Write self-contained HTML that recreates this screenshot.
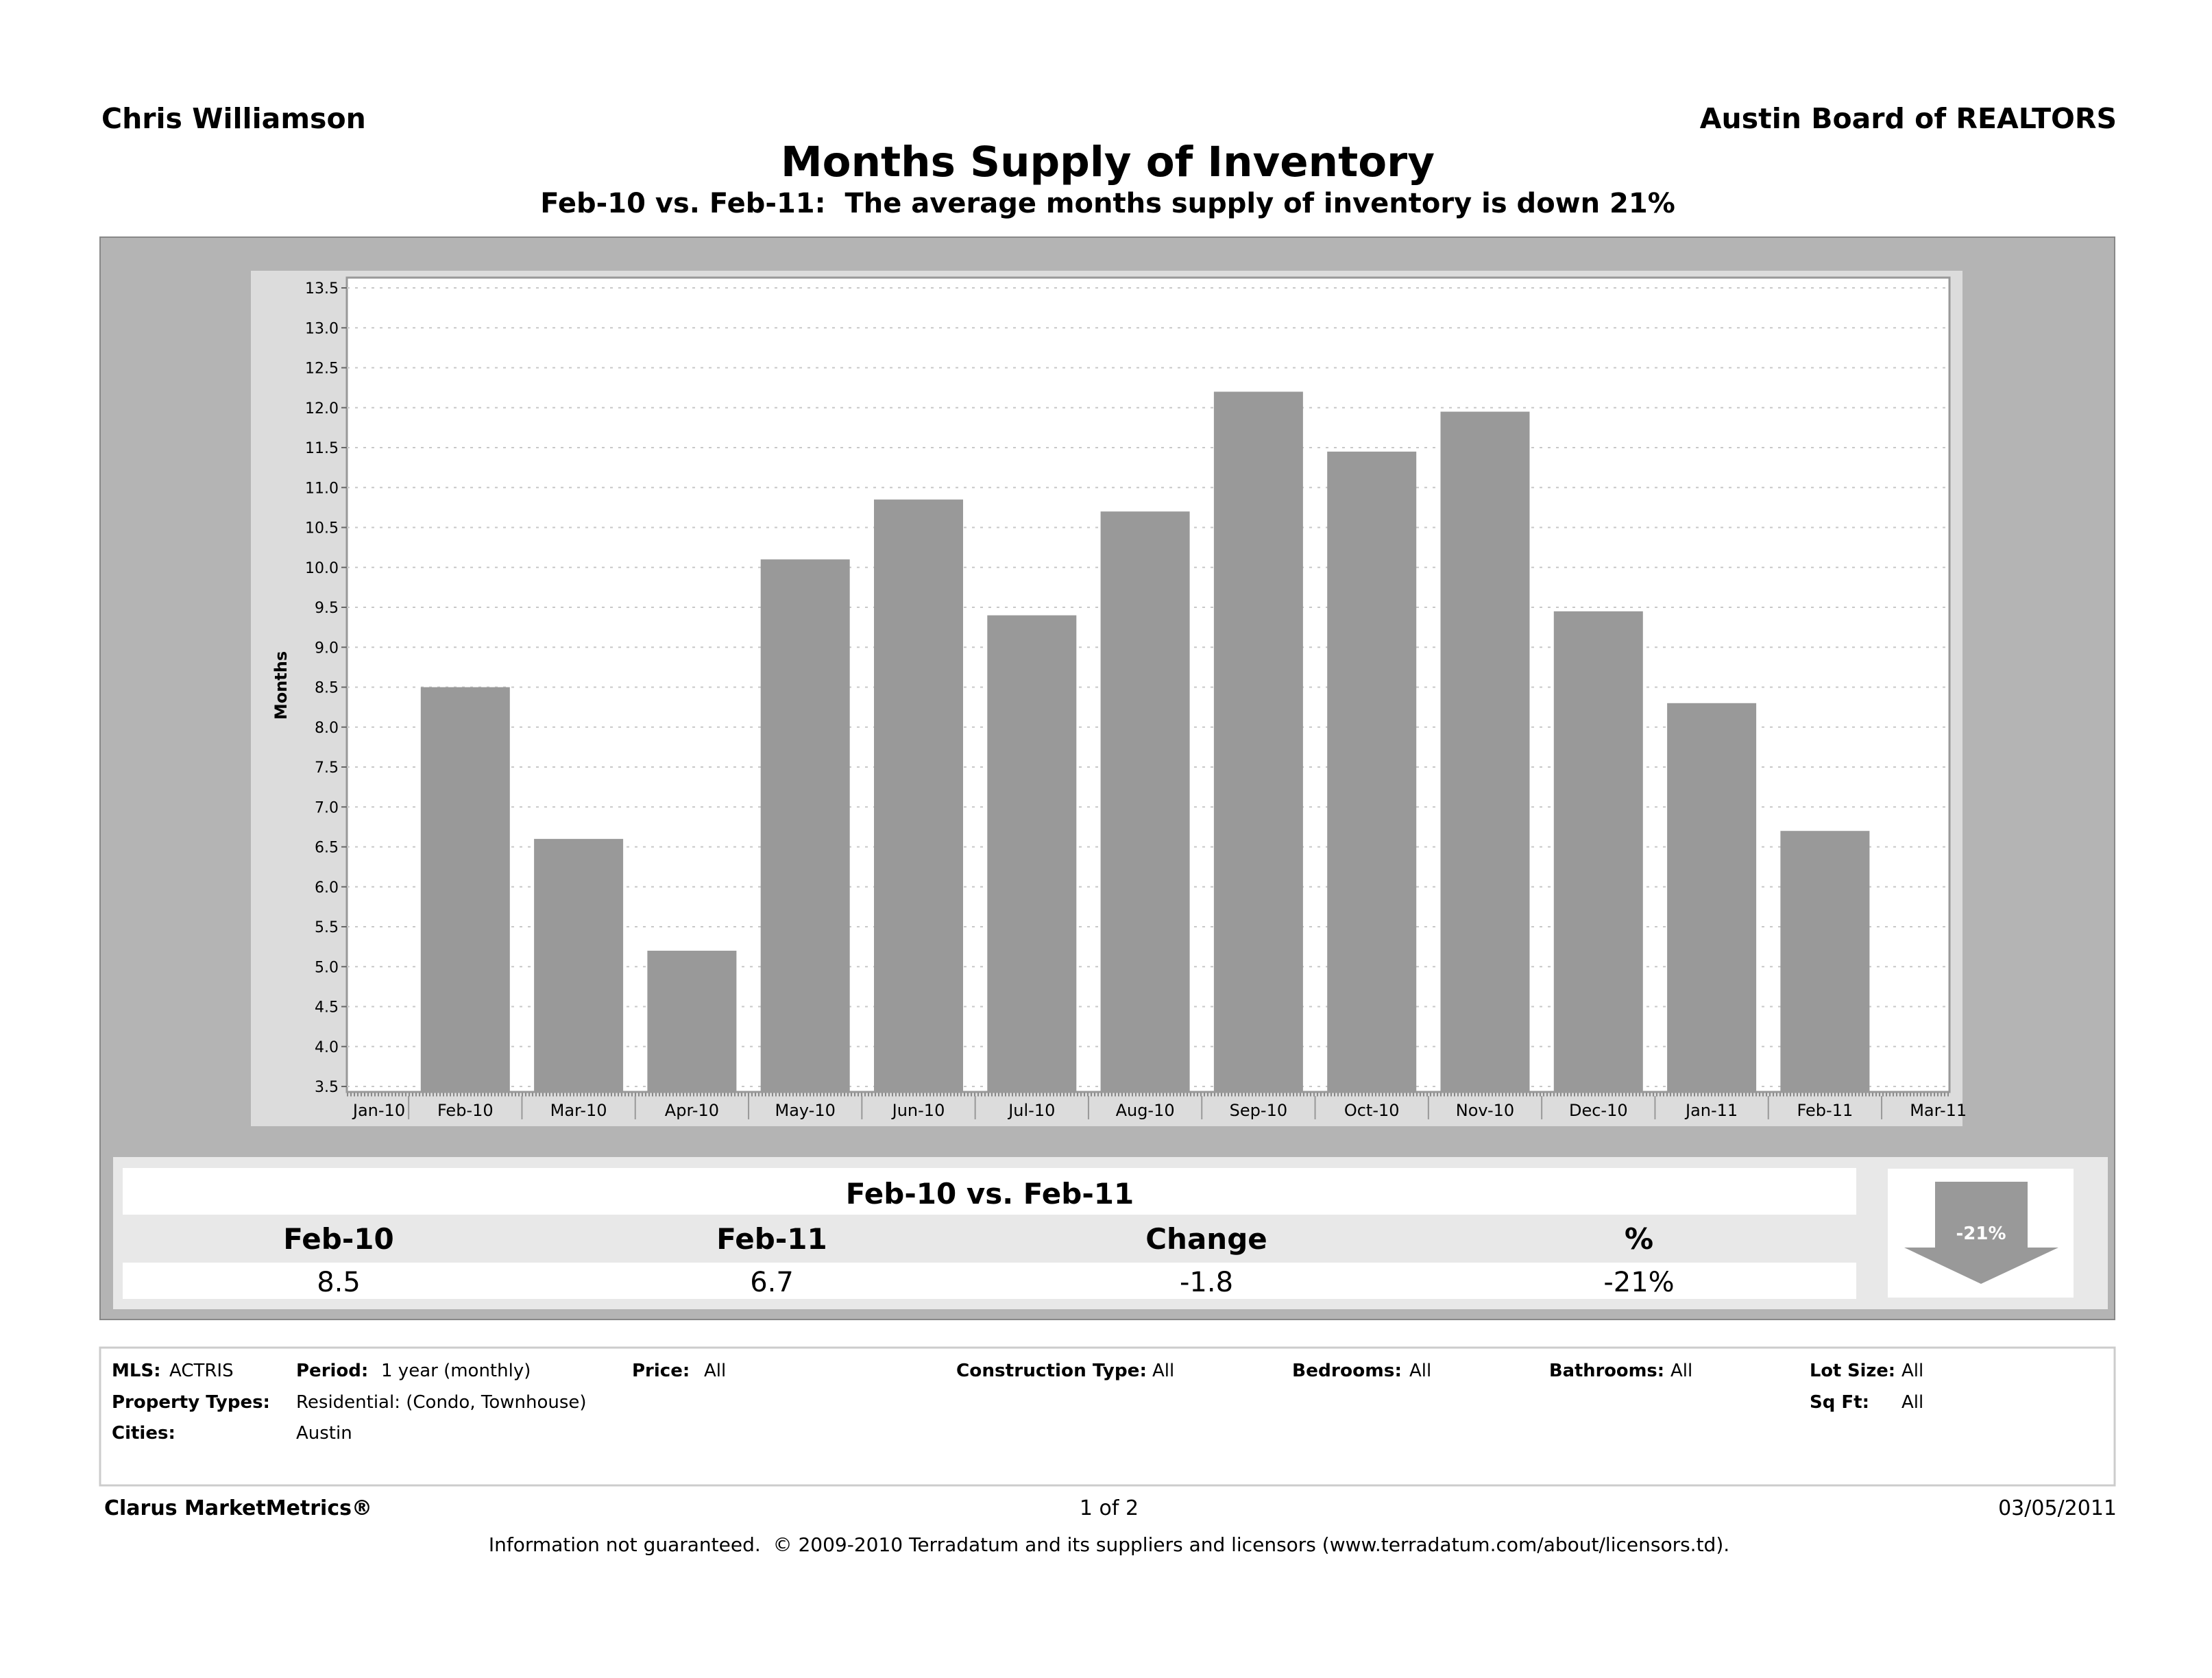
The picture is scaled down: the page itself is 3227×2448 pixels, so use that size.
<!DOCTYPE html>
<html><head><meta charset="utf-8"><style>
html,body{margin:0;padding:0;background:#fff}
svg{display:block}
text{font-family:"DejaVu Sans","Liberation Sans",sans-serif;white-space:pre}
</style></head><body>
<svg id="page" width="3227" height="2448" viewBox="0 0 3227 2448" xmlns="http://www.w3.org/2000/svg" xml:space="preserve">
<rect width="3227" height="2448" fill="#fff"/>
<text x="148" y="187" font-size="41" font-weight="bold">Chris Williamson</text>
<text x="3088" y="187" font-size="41" font-weight="bold" text-anchor="end">Austin Board of REALTORS</text>
<text x="1616" y="257" font-size="61" font-weight="bold" text-anchor="middle">Months Supply of Inventory</text>
<text x="1616" y="310" font-size="40" font-weight="bold" text-anchor="middle">Feb-10 vs. Feb-11:  The average months supply of inventory is down 21%</text>

<rect x="146" y="346" width="2939" height="1579" fill="#b4b4b4" stroke="#888" stroke-width="2"/>
<rect x="366" y="395" width="2497" height="1248" fill="#dcdcdc"/>
<g id="chart"></g>

<rect x="165" y="1688" width="2910" height="222" fill="#e8e8e8"/>
<rect x="179" y="1704" width="2529" height="68" fill="#fff"/>
<text x="1444" y="1756" font-size="42" font-weight="bold" text-anchor="middle">Feb-10 vs. Feb-11</text>
<text x="494" y="1822" font-size="42" font-weight="bold" text-anchor="middle">Feb-10</text>
<text x="1126" y="1822" font-size="42" font-weight="bold" text-anchor="middle">Feb-11</text>
<text x="1760" y="1822" font-size="42" font-weight="bold" text-anchor="middle">Change</text>
<text x="2391" y="1822" font-size="42" font-weight="bold" text-anchor="middle">%</text>
<rect x="179" y="1842" width="2529" height="53" fill="#fff"/>
<text x="494" y="1884" font-size="40" text-anchor="middle">8.5</text>
<text x="1126" y="1884" font-size="40" text-anchor="middle">6.7</text>
<text x="1760" y="1884" font-size="40" text-anchor="middle">-1.8</text>
<text x="2391" y="1884" font-size="40" text-anchor="middle">-21%</text>
<rect x="2754" y="1705" width="271" height="188" fill="#fff"/>
<polygon points="2823,1724 2958,1724 2958,1820 3003,1820 2890,1873 2778,1820 2823,1820" fill="#999"/>
<text x="2890" y="1808" font-size="26" font-weight="bold" fill="#fff" text-anchor="middle">-21%</text>

<rect x="146" y="1966" width="2939" height="201" fill="#fff" stroke="#ccc" stroke-width="3"/>
<g font-size="26">
<text x="163" y="2008" font-weight="bold">MLS:</text>
<text x="247" y="2008">ACTRIS</text>
<text x="432" y="2008" font-weight="bold">Period:</text>
<text x="556" y="2008">1 year (monthly)</text>
<text x="922" y="2008" font-weight="bold">Price:</text>
<text x="1027" y="2008">All</text>
<text x="1395" y="2008" font-weight="bold" textLength="278" lengthAdjust="spacingAndGlyphs">Construction Type:</text>
<text x="1681" y="2008">All</text>
<text x="1885" y="2008" font-weight="bold" textLength="160" lengthAdjust="spacingAndGlyphs">Bedrooms:</text>
<text x="2056" y="2008">All</text>
<text x="2260" y="2008" font-weight="bold" textLength="168" lengthAdjust="spacingAndGlyphs">Bathrooms:</text>
<text x="2437" y="2008">All</text>
<text x="2640" y="2008" font-weight="bold" textLength="125" lengthAdjust="spacingAndGlyphs">Lot Size:</text>
<text x="2774" y="2008">All</text>
<text x="163" y="2054" font-weight="bold">Property Types:</text>
<text x="432" y="2054">Residential: (Condo, Townhouse)</text>
<text x="2640" y="2054" font-weight="bold">Sq Ft:</text>
<text x="2774" y="2054">All</text>
<text x="163" y="2099" font-weight="bold">Cities:</text>
<text x="432" y="2099">Austin</text>
</g>
<text x="152" y="2210" font-size="30" font-weight="bold">Clarus MarketMetrics®</text>
<text x="1618" y="2210" font-size="30" text-anchor="middle">1 of 2</text>
<text x="3088" y="2210" font-size="30" text-anchor="end">03/05/2011</text>
<text x="1618" y="2263" font-size="28" text-anchor="middle">Information not guaranteed.  © 2009-2010 Terradatum and its suppliers and licensors (www.terradatum.com/about/licensors.td).</text>
</svg>
<script>
const categories = ["Jan-10","Feb-10","Mar-10","Apr-10","May-10","Jun-10","Jul-10","Aug-10","Sep-10","Oct-10","Nov-10","Dec-10","Jan-11","Feb-11","Mar-11"];
const values = [null,8.5,6.6,5.2,10.1,10.85,9.4,10.7,12.2,11.45,11.95,9.45,8.3,6.7,null];
const yTicks = [3.5,4.0,4.5,5.0,5.5,6.0,6.5,7.0,7.5,8.0,8.5,9.0,9.5,10.0,10.5,11.0,11.5,12.0,12.5,13.0,13.5];

const NS = "http://www.w3.org/2000/svg";
const g = document.getElementById("chart");
const L = 506, R = 2844, T = 405, B = 1593;
const yMin = 3.5, yMax = 13.5, yTop = 420, yBot = 1585;
function y(v){ return yBot - (v - yMin) / (yMax - yMin) * (yBot - yTop); }
const step = 165.3, x0 = 513.5;
function x(i){ return x0 + i * step; }
function mk(tag, attrs){ const e = document.createElementNS(NS, tag); for (const k in attrs) e.setAttribute(k, attrs[k]); g.appendChild(e); return e; }

const plot = mk("rect", {x:L, y:T, width:R-L, height:B-T, fill:"#fff", stroke:"#999", "stroke-width":3});



yTicks.forEach(v => {
  const gl = mk("line", {x1:L, x2:R, y1:y(v), y2:y(v), stroke:"#c8c8c8", "stroke-width":2, "stroke-dasharray":"4,8"});
  
  
  const tk = mk("line", {x1:L-8, x2:L, y1:y(v), y2:y(v), stroke:"#666", "stroke-width":2});
  
  
  const t = mk("text", {x:L-12, y:y(v)+8, "font-size":22, "text-anchor":"end"});
  t.textContent = v.toFixed(1);
  
  
});

values.forEach((v, i) => {
  if (v === null) return;
  const b = mk("rect", {x:x(i)-65, y:y(v), width:130, height:B-y(v), fill:"#999"});
  
  
});

categories.forEach((c, i) => {
  const t = mk("text", {x:Math.max(x(i), 553), y:1628, "font-size":24, "text-anchor":"middle"});
  t.textContent = c;
  
  
  if (i < categories.length - 1) {
    const s = mk("line", {x1:x(i)+step/2, x2:x(i)+step/2, y1:B+6, y2:B+40, stroke:"#999", "stroke-width":2});
    
    
  }
});
const ax = mk("line", {x1:L, x2:R, y1:B+4, y2:B+4, stroke:"#888", "stroke-width":5, "stroke-dasharray":"2,3"});



const yt = mk("text", {x:0, y:0, "font-size":24, "font-weight":"bold", "text-anchor":"middle", transform:"translate(418,1000) rotate(-90)"});
yt.textContent = "Months";


</script>
</body></html>
